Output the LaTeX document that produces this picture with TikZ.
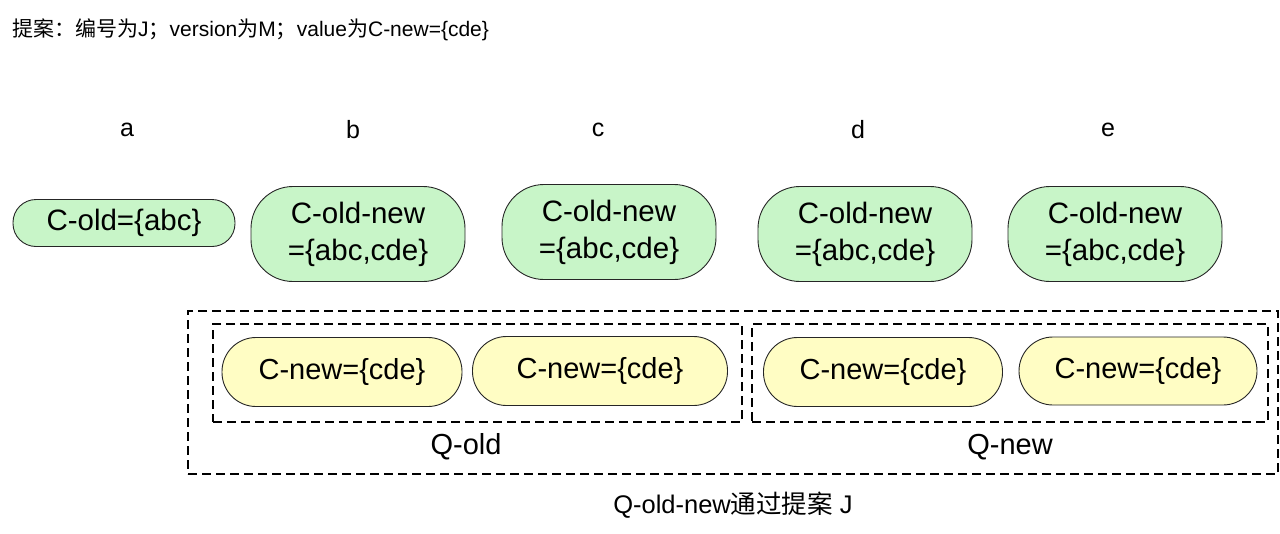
\documentclass[tikz,border=0pt]{standalone}
\usepackage{fontspec}
\setmainfont{Liberation Sans}
\newfontfamily\cjk{Noto Sans CJK SC}
\definecolor{gfill}{RGB}{200,245,200}
\definecolor{yfill}{RGB}{255,253,196}
\begin{document}
\begin{tikzpicture}[x=1pt,y=-1pt,
  every node/.style={inner sep=0pt},
  lab/.style={font=\fontsize{25}{29}\selectfont},
  gnode/.style={draw=black!85,line width=0.9pt,fill=gfill,rounded corners=42pt,
    minimum width=214pt,minimum height=95pt,align=center,
    font=\fontsize{29.5}{37}\selectfont},
  anode/.style={draw=black!85,line width=0.9pt,fill=gfill,rounded corners=23pt,
    minimum width=222pt,minimum height=47pt,font=\fontsize{29.5}{32}\selectfont},
  ynode/.style={draw=black!85,line width=0.9pt,fill=yfill,rounded corners=34pt,
    minimum width=240pt,minimum height=69pt,font=\fontsize{29}{32}\selectfont},
  dbox/.style={draw=black,line width=1.8pt,dash pattern=on 9pt off 5pt},
  qlab/.style={font=\fontsize{29}{32}\selectfont}]
\useasboundingbox (0,0) rectangle (1280,533);
\node[anchor=west,font=\fontsize{21}{25}\selectfont] (title) at (12,30)
  {{\cjk 提案：编号为}J{\cjk ；}version{\cjk 为}M{\cjk ；}value{\cjk 为}C-new=\{cde\}};
\node[lab] (la) at (127,130) {a};
\node[lab] (lb) at (353,130) {b};
\node[lab] (lc) at (598,130) {c};
\node[lab] (ld) at (858,130) {d};
\node[lab] (le) at (1108,130) {e};
\node[anode] (na) at (124,223) {C-old=\{abc\}};
\node[gnode] (nb) at (358,234) {C-old-new\\=\{abc,cde\}};
\node[gnode] (nc) at (609,232) {C-old-new\\=\{abc,cde\}};
\node[gnode] (nd) at (865,234) {C-old-new\\=\{abc,cde\}};
\node[gnode] (ne) at (1115,234) {C-old-new\\=\{abc,cde\}};
\node[dbox,minimum width=1090pt,minimum height=163pt] (outer) at (733,392.5) {};
\node[dbox,minimum width=529pt,minimum height=98pt] (qold) at (477.5,373) {};
\node[dbox,minimum width=516pt,minimum height=98pt] (qnew) at (1010,373) {};
\node[ynode] (y1) at (342,372) {C-new=\{cde\}};
\node[ynode,minimum width=255pt] (y2) at (600,371) {C-new=\{cde\}};
\node[ynode,minimum width=239pt] (y3) at (883,372) {C-new=\{cde\}};
\node[ynode,minimum width=238pt,minimum height=68pt] (y4) at (1138,371) {C-new=\{cde\}};
\node[qlab] (lqold) at (466,447) {Q-old};
\node[qlab] (lqnew) at (1010,447) {Q-new};
\node[font=\fontsize{25.5}{29}\selectfont] (foot) at (733,505) {Q-old-new{\cjk 通过提案} J};
\end{tikzpicture}
\end{document}
